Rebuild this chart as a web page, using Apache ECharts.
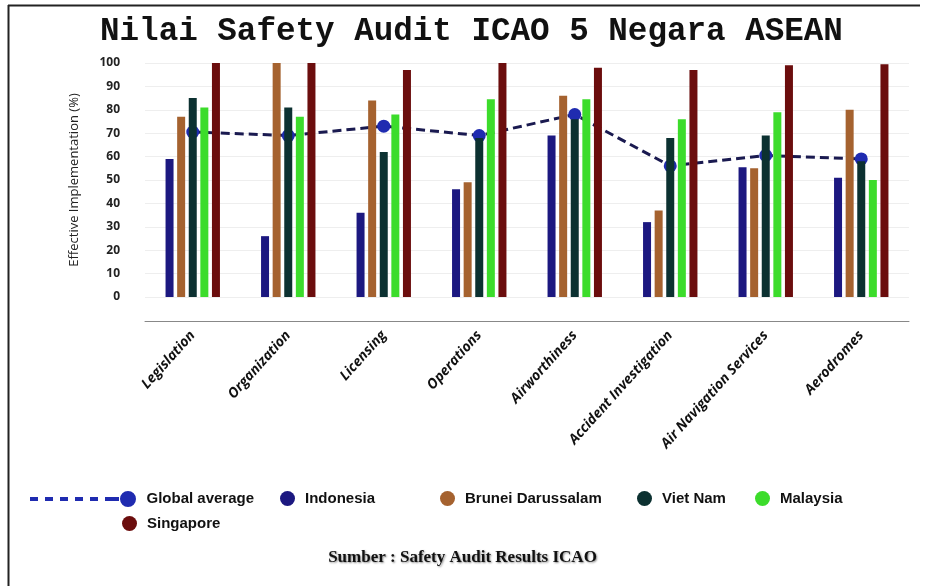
<!DOCTYPE html>
<html>
<head>
<meta charset="utf-8">
<title>Nilai Safety Audit ICAO 5 Negara ASEAN</title>
<script src="https://cdn.jsdelivr.net/npm/echarts@6/dist/echarts.min.js"></script>
<style>
html,body{margin:0;padding:0;background:#fff;}
#chart{width:925px;height:586px;}
</style>
</head>
<body>
<div id="chart"></div>
<script>
// data
var categories = ['Legislation','Organization','Licensing','Operations','Airworthiness','Accident Investigation','Air Navigation Services','Aerodromes'];
var globalAverage = [70.5, 69, 73, 69, 78, 56, 60.5, 59];
var indonesia = [59, 26, 36, 46, 69, 32, 55.5, 51];
var brunei    = [77, 100, 84, 49, 86, 37, 55, 80];
var vietnam   = [85, 81, 62, 68, 76, 68, 69, 58];
var malaysia  = [81, 77, 78, 84.5, 84.5, 76, 79, 50];
var singapore = [100, 100, 97, 100, 98, 97, 99, 99.5];
var countries = ['Indonesia','Brunei Darussalam','Viet Nam','Malaysia','Singapore'];
var countryValues = [indonesia, brunei, vietnam, malaysia, singapore];
var colors = ['#1c1880','#a5622f','#0c3131','#3cdc2b','#6b0d0d'];

var chart = echarts.init(document.getElementById('chart'));

var legendText = {
	fontFamily: "'Liberation Sans Narrow','Liberation Sans',sans-serif",
	fontWeight: 'bold',
	fontSize: 15,
	color: '#111',
	padding: [0,0,0,5]
};
// one legend per item so each sits where the picture has it
function legendAt(name,left,top,icon,w,h){
	return {
		data: [{name:name, icon:icon}],
		left: left, top: top,
		itemWidth: w, itemHeight: h,
		itemStyle: {borderWidth:0},
		textStyle: legendText
	};
}
var dashIcon = 'path://M0 6h8v4h-8z M15 6h8v4h-8z M30 6h8v4h-8z M45 6h8v4h-8z M60 6h8v4h-8z M75 6h14v4h-14z M90 8a8 8 0 1 0 16 0a8 8 0 1 0 -16 0z';
var legends = [
	legendAt('Global average',25,486,dashIcon,107,16),
	legendAt('Indonesia',275,486,'circle',15,15),
	legendAt('Brunei Darussalam',435,486,'circle',15,15),
	legendAt('Viet Nam',632,486,'circle',15,15),
	legendAt('Malaysia',750,486,'circle',15,15),
	legendAt('Singapore',117,511,'circle',15,15)
];

// bars with a high z, the average line low so the bars cover it
var series = [];
for(var i=0;i<countries.length;i++){
	series.push({
		name: countries[i],
		type: 'bar',
		data: countryValues[i],
		z: 10,
		barWidth: 8,
		barGap: '45%',
		itemStyle: {color: colors[i]}
	});
}
series.unshift({
	name: 'Global average',
	type: 'line',
	data: globalAverage,
	z: 0,
	symbol: 'circle',
	symbolSize: 13,
	itemStyle: {color:'#1f2bb0'},
	lineStyle: {color:'#1a1a50', width:3, type:[9,5]}
});

var option = {
	animation: false,
	backgroundColor: '#fff',
	title: {
		text: 'Nilai Safety Audit ICAO 5 Negara ASEAN',
		left: 95,
		top: 10,
		textStyle: {fontFamily:"'Liberation Mono',monospace", fontWeight:'bold', fontSize:32.6, color:'#111'}
	},
	legend: legends,
	grid: {left:145, right:16, top:63, bottom:289},
	xAxis: {
		type: 'category',
		data: categories,
		offset: 24,
		axisLine: {onZero:false, lineStyle:{color:'#888'}},
		axisTick: {lineStyle:{color:'#888'}, length:6},
		axisLabel: {
			rotate: 48, margin: 12, interval: 0,
			fontFamily: "'Open Sans',sans-serif", fontStyle:'italic', fontWeight:'bold', fontSize:14, color:'#111'
		}
	},
	yAxis: {
		type: 'value',
		min: 0, max: 100, interval: 10,
		name: 'Effective Implementation (%)',
		nameLocation: 'middle',
		nameGap: 64,
		nameTextStyle: {fontFamily:"'Open Sans',sans-serif", fontSize:13, color:'#222'},
		axisLine: {show:false},
		axisTick: {show:false},
		axisLabel: {margin:25, fontFamily:"'Open Sans',sans-serif", fontWeight:'bold', fontSize:12, color:'#222'},
		splitLine: {lineStyle:{color:'#eeeeee'}}
	},
	graphic: [
		// frame round the picture (left and top edges only)
		{type:'line', shape:{x1:8.5,y1:5,x2:8.5,y2:586}, style:{stroke:'#222', lineWidth:2}},
		{type:'line', shape:{x1:8,y1:5.5,x2:920,y2:5.5}, style:{stroke:'#222', lineWidth:2}},
		{type:'text', left:'center', top:549,
			style:{text:'Sumber : Safety Audit Results ICAO', font:"bold 17px 'Liberation Serif',serif", fill:'#111',
				textShadowColor:'rgba(0,0,0,0.45)', textShadowBlur:2, textShadowOffsetX:1, textShadowOffsetY:1}}
	],
	series: series
};
chart.setOption(option);
</script>
</body>
</html>
